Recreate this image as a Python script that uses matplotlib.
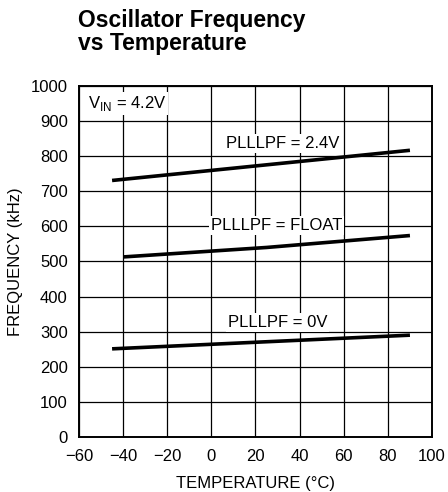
import matplotlib.pyplot as plt
from matplotlib import font_manager

names = {f.name for f in font_manager.fontManager.ttflist}
narrow = 'Liberation Sans Narrow' if 'Liberation Sans Narrow' in names else 'Liberation Sans'
plt.rcParams['font.family'] = [narrow, 'DejaVu Sans']

temp = [-45, 90]
f_24v = [731, 817]
temp_float = [-40, 25, 90]
f_float = [513, 540, 574]
f_0v = [251, 290]

fig = plt.figure(figsize=(4.48, 4.92), dpi=100)
ax = fig.add_axes([0.1763, 0.112, 0.7880, 0.713])

ax.plot(temp, f_24v, color='black', lw=2.6, solid_capstyle='butt', zorder=3)
ax.plot(temp_float, f_float, color='black', lw=2.6, solid_capstyle='butt', zorder=3)
ax.plot(temp, f_0v, color='black', lw=2.6, solid_capstyle='butt', zorder=3)

ax.set_xlim(-60, 100)
ax.set_ylim(0, 1000)
ax.set_xticks(range(-60, 101, 20))
ax.set_yticks(range(0, 1001, 100))
ax.set_xticklabels(['\u221260', '\u221240', '\u221220', '0', '20', '40', '60', '80', '100'])
ax.tick_params(length=0, labelsize=12)
ax.tick_params(axis='x', pad=9)
ax.tick_params(axis='y', pad=8)
ax.grid(True, color='black', lw=0.9)
for s in ax.spines.values():
    s.set_linewidth(1.4)

box = dict(facecolor='white', edgecolor='none', pad=1.5)
ax.text(32.5, 837, 'PLLLPF = 2.4V', ha='center', va='center', fontsize=12, bbox=box, zorder=4)
ax.text(29.5, 603, 'PLLLPF = FLOAT', ha='center', va='center', fontsize=12, bbox=box, zorder=4)
ax.text(30, 325, 'PLLLPF = 0V', ha='center', va='center', fontsize=12, bbox=box, zorder=4)
ax.text(-56, 951, r'V$_{\mathregular{IN}}$ = 4.2V', ha='left', va='center', fontsize=12, bbox=box, zorder=4)

ax.set_xlabel('TEMPERATURE (\u00b0C)', fontsize=12, labelpad=8)
ax.set_ylabel('FREQUENCY (kHz)', fontsize=12, labelpad=6)

fig.text(0.174, 0.958, 'Oscillator Frequency', fontsize=16.5, fontweight='bold', va='center')
fig.text(0.174, 0.911, 'vs Temperature', fontsize=16.5, fontweight='bold', va='center')

fig.savefig('out.png', dpi=100)
